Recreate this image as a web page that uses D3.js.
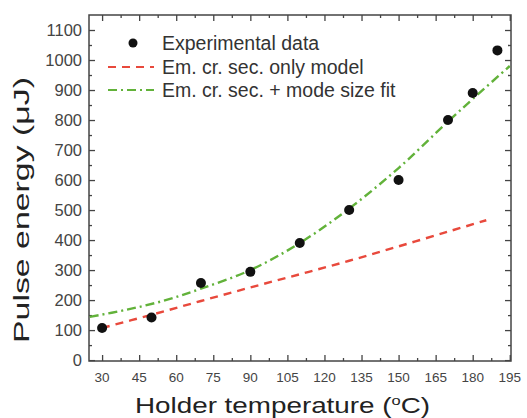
<!DOCTYPE html>
<html><head><meta charset="utf-8">
<script src="https://cdn.jsdelivr.net/npm/d3@7"></script>
<style>body{margin:0;background:#fff}svg{display:block}text{font-family:"Liberation Sans",Arial,sans-serif}</style>
</head><body>
<script>
// data
const expTemp = [30, 50, 70, 90, 110, 130, 150, 170, 180, 190];
const expEnergy = [107, 142, 257, 294, 390, 500, 600, 800, 890, 1032];
const modelTemp = [30, 50, 70, 90, 110, 130, 150, 170, 185.5];
const modelEnergy = [107, 151, 197, 242, 286, 331, 379, 428, 466];
const fitTemp = [25, 40, 55, 70, 90, 110, 130, 150, 170, 180, 195];
const fitEnergy = [144, 168, 198, 238, 300, 390, 505, 640, 795, 870, 980];
const xTicks = [30, 45, 60, 75, 90, 105, 120, 135, 150, 165, 180, 195];
const yTicks = [0, 100, 200, 300, 400, 500, 600, 700, 800, 900, 1000, 1100];
const legendLabels = ["Experimental data", "Em. cr. sec. only model", "Em. cr. sec. + mode size fit"];

const W = 527, H = 418;
const m = {l: 89, r: 16, t: 15, b: 57};
const svg = d3.select("body").append("svg").attr("width", W).attr("height", H);
const x = d3.scaleLinear().domain([24.7, 195.5]).range([m.l, W - m.r]);
const y = d3.scaleLinear().domain([-3, 1150]).range([H - m.b, m.t]);
const axisCol = "#444";

const xMinor = d3.range(37.5, 195, 15);
const yMinor = d3.range(50, 1150, 100);

// frame
svg.append("rect").attr("x", m.l).attr("y", m.t).attr("width", W - m.r - m.l).attr("height", H - m.b - m.t)
  .attr("fill", "none").attr("stroke", axisCol).attr("stroke-width", 1.5);

function ticks(axisGen, tr, vals, size) {
  const g = svg.append("g").attr("transform", tr).call(axisGen.tickValues(vals).tickSize(size).tickFormat(""));
  g.select(".domain").remove();
  g.selectAll("line").attr("stroke", axisCol).attr("stroke-width", 1.3);
  return g;
}
const bottomY = H - m.b, rightX = W - m.r;
ticks(d3.axisTop(x), `translate(0,${bottomY})`, xTicks, 6);
ticks(d3.axisTop(x), `translate(0,${bottomY})`, xMinor, 3);
ticks(d3.axisBottom(x), `translate(0,${m.t})`, xTicks, 6);
ticks(d3.axisBottom(x), `translate(0,${m.t})`, xMinor, 3);
ticks(d3.axisRight(y), `translate(${m.l},0)`, yTicks, 6);
ticks(d3.axisRight(y), `translate(${m.l},0)`, yMinor, 3);
ticks(d3.axisLeft(y), `translate(${rightX},0)`, yTicks, 6);
ticks(d3.axisLeft(y), `translate(${rightX},0)`, yMinor, 3);

// tick labels
svg.append("g").selectAll("text").data(xTicks).join("text")
  .attr("x", d => x(d)).attr("y", bottomY + 21).attr("text-anchor", "middle")
  .attr("font-size", 13.5).attr("fill", "#444").text(d => d);
svg.append("g").selectAll("text").data(yTicks).join("text")
  .attr("x", 82).attr("y", d => y(d) + 6).attr("text-anchor", "end")
  .attr("font-size", 16.5).attr("fill", "#444").text(d => d);

// axis titles
const xt = svg.append("text").attr("x", 135).attr("y", 413)
  .attr("font-size", 22).attr("fill", "#222")
  .attr("textLength", 295).attr("lengthAdjust", "spacingAndGlyphs");
xt.append("tspan").text("Holder temperature (");
xt.append("tspan").attr("dy", -8).attr("font-size", 13).text("o");
xt.append("tspan").attr("dy", 8).text("C)");
svg.append("text").attr("transform", "translate(29,343) rotate(-90)")
  .attr("font-size", 22).attr("fill", "#222")
  .attr("textLength", 266).attr("lengthAdjust", "spacingAndGlyphs")
  .text("Pulse energy (\u03bcJ)");

// curves
const line = d3.line().x(d => x(d[0])).y(d => y(d[1])).curve(d3.curveCatmullRom);
svg.append("path").datum(modelTemp.map((t, i) => [t, modelEnergy[i]])).attr("d", line)
  .attr("fill", "none").attr("stroke", "#e8493c").attr("stroke-width", 2.4).attr("stroke-dasharray", "8,6");
svg.append("path").datum(fitTemp.map((t, i) => [t, fitEnergy[i]])).attr("d", line)
  .attr("fill", "none").attr("stroke", "#62b23a").attr("stroke-width", 2.4).attr("stroke-dasharray", "9,4,2,4");

// points
svg.append("g").selectAll("circle").data(expTemp.map((t, i) => [t, expEnergy[i]])).join("circle")
  .attr("cx", d => x(d[0])).attr("cy", d => y(d[1])).attr("r", 5).attr("fill", "#111");

// legend
const lg = svg.append("g");
const ly = [43, 67, 90];
lg.append("circle").attr("cx", 133).attr("cy", ly[0]).attr("r", 4.5).attr("fill", "#111");
lg.append("line").attr("x1", 108).attr("x2", 154).attr("y1", ly[1]).attr("y2", ly[1])
  .attr("stroke", "#e8493c").attr("stroke-width", 2).attr("stroke-dasharray", "8,6");
lg.append("line").attr("x1", 108).attr("x2", 154).attr("y1", ly[2]).attr("y2", ly[2])
  .attr("stroke", "#62b23a").attr("stroke-width", 2).attr("stroke-dasharray", "9,4,2,4");
lg.selectAll("text").data(legendLabels).join("text")
  .attr("x", 162).attr("y", (d, i) => ly[i] + 7).attr("font-size", 19.5).attr("fill", "#333").text(d => d);
</script>
</body></html>
